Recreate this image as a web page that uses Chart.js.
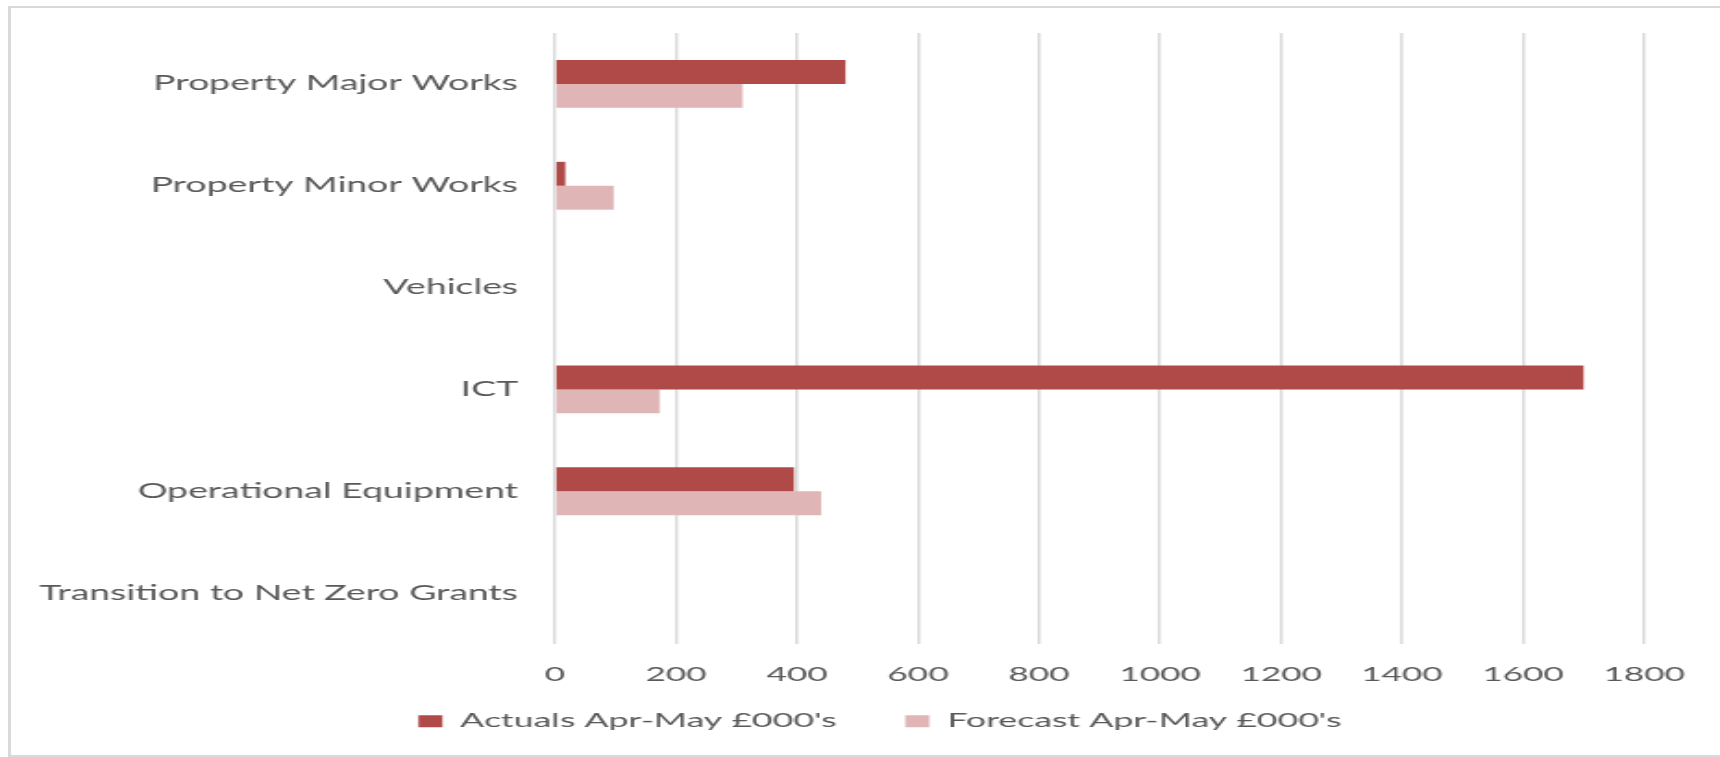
<!DOCTYPE html>
<html>
<head>
<meta charset="utf-8">
<script src="https://cdn.jsdelivr.net/npm/chart.js@4"></script>
<style>
  html, body { margin: 0; padding: 0; background: #fff; overflow: hidden; }
  #frame {
    position: absolute; left: 8px; top: 6px; width: 2000px; height: 747px;
    border-left: 3px solid #d9d9d9; border-top: 2px solid #d9d9d9; border-bottom: 2px solid #d9d9d9;
  }
  #chart { position: absolute; left: 0; top: 0; }
</style>
</head>
<body>
<div id="frame"></div>
<!-- the source picture is stretched sideways, so the canvas is drawn narrow and widened -->
<canvas id="chart" width="930" height="757" style="width:1720px;height:757px"></canvas>
<script>
// Capital spend by category
const categories = [
    "Property Major Works",
    "Property Minor Works",
    "Vehicles",
    "ICT",
    "Operational Equipment",
    "Transition to Net Zero Grants",
];
const actuals = [480, 17, 0, 1700, 395, 0];
const forecast = [310, 97, 0, 173, 440, 0];
const xTicks = [0, 200, 400, 600, 800, 1000, 1200, 1400, 1600, 1800];

const seriesNames = ["Actuals Apr-May £000's", "Forecast Apr-May £000's"];

const stretch = 1720 / 930;
const textGrey = "#595959";

// legend sits a little right of the canvas centre in the original
const legendShift = {
    id: "legendShift",
    afterLayout(chart) {
        chart.legend.left += 31;
        chart.legend.right += 31;
    }
};

const chartRef = new Chart(document.getElementById("chart"), {
    type: "bar",
    data: {
        labels: categories,
        datasets: [
            {
                label: seriesNames[0],
                data: actuals,
                backgroundColor: "#b04a48",
            },
            {
                label: seriesNames[1],
                data: forecast,
                backgroundColor: "#dfb6b5",
            },
        ],
    },
    plugins: [legendShift],
    options: {
        indexAxis: "y",
        responsive: false,
        animation: false,
        devicePixelRatio: 1,
        categoryPercentage: 0.47,
        barPercentage: 1.0,
        layout: {
            padding: { left: 0, top: 33, right: 930 - 1645 / stretch, bottom: 16.2 }
        },
        scales: {
            x: {
                min: xTicks[0],
                max: xTicks[xTicks.length - 1],
                border: { display: false },
                grid: { color: "#d9d9d9", lineWidth: 1.5, drawTicks: false },
                ticks: {
                    stepSize: xTicks[1] - xTicks[0],
                    color: textGrey,
                    padding: 19,
                    font: { family: "Lato", size: 19 },
                    callback: (v) => String(v)
                },
                afterFit: (scale) => { scale.height = 50; }
            },
            y: {
                border: { display: false },
                grid: { display: false, drawTicks: false },
                ticks: {
                    color: textGrey,
                    padding: 20,
                    font: { family: "Lato", size: 20.2 }
                },
                afterFit: (scale) => { scale.width = 555 / stretch; }
            }
        },
        plugins: {
            tooltip: { enabled: false },
            legend: {
                position: "bottom",
                labels: {
                    color: textGrey,
                    boxWidth: 13,
                    boxHeight: 12,
                    padding: 17.5,
                    font: { family: "Lato", size: 19.3 },
                    // wider gap between the two keys than the vertical padding allows
                    generateLabels: (chart) => {
                        const items = Chart.defaults.plugins.legend.labels.generateLabels(chart);
                        items[0].text = items[0].text + "    ";
                        return items;
                    }
                }
            }
        }
    }
});
</script>
</body>
</html>
